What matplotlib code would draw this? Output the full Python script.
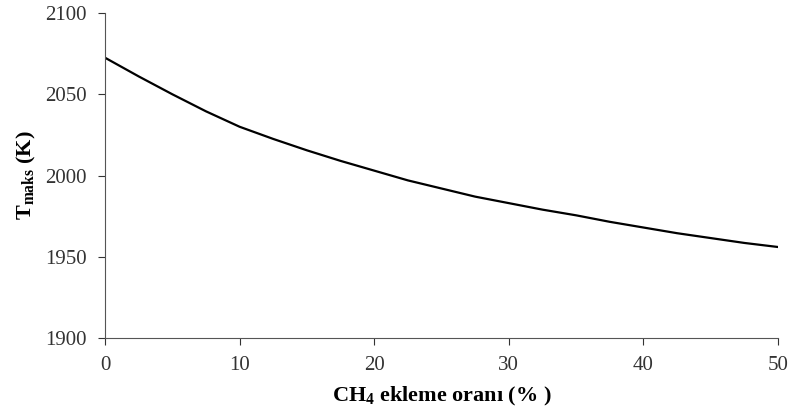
import matplotlib
matplotlib.use("Agg")
import matplotlib.pyplot as plt

plt.rcParams['font.family'] = ['Liberation Serif', 'DejaVu Serif']
plt.rcParams['mathtext.fontset'] = 'custom'
plt.rcParams['mathtext.rm'] = 'Liberation Serif'
plt.rcParams['mathtext.bf'] = 'Liberation Serif:bold'
plt.rcParams['mathtext.it'] = 'Liberation Serif:italic'

# CH4 addition ratio (%) and max temperature (K)
ch4_ratio = [0, 2.5, 5, 7.5, 10, 12.5, 15, 17.5, 20, 22.5, 25,
             27.5, 30, 32.5, 35, 37.5, 40, 42.5, 45, 47.5, 50]
t_max = [2072.5, 2061, 2050, 2039.5, 2030, 2022.5, 2015.5, 2009, 2003, 1997, 1992,
         1987, 1983, 1979, 1975.5, 1971.5, 1968, 1964.5, 1961.5, 1958.5, 1956]

x_ticks = [0, 10, 20, 30, 40, 50]
y_ticks = [1900, 1950, 2000, 2050, 2100]

fig = plt.figure(figsize=(7.89, 4.12), dpi=100)
ax = fig.add_axes([0.1331, 0.1796, 0.8530, 0.7888])

ax.plot(ch4_ratio, t_max, color='black', linewidth=1.6)

ax.set_xlim(0, 50)
ax.set_ylim(1900, 2100)
ax.set_xticks(x_ticks)
ax.set_yticks(y_ticks)
ax.tick_params(direction='out', length=5, width=0.8, labelsize=15, colors='#333333')
ax.tick_params(axis='x', pad=8)
ax.tick_params(axis='y', pad=8)
for side in ['top', 'right']:
    ax.spines[side].set_visible(False)
for side in ['left', 'bottom']:
    ax.spines[side].set_color('#555555')

ax.set_xlabel(r'CH$_\mathbf{4}$ ekleme oranı (% )', fontsize=16, fontweight='bold', labelpad=7)
ax.set_ylabel(r'T$_\mathbf{maks}$ (K)', fontsize=16, fontweight='bold', labelpad=5)

fig.savefig('out.png', dpi=100)
